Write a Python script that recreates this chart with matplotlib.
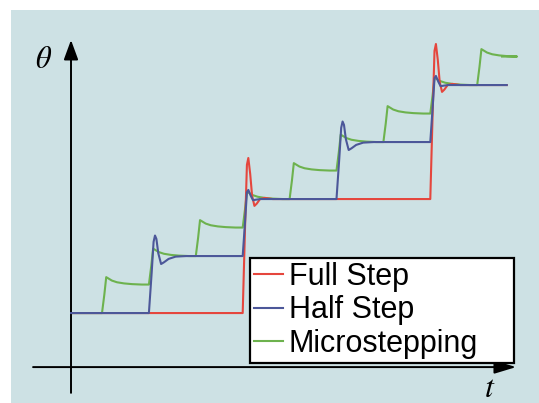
import matplotlib.pyplot as plt
from matplotlib.patches import Rectangle
from matplotlib.lines import Line2D

plt.rcParams['font.family'] = ['Liberation Sans', 'DejaVu Sans']
plt.rcParams['mathtext.fontset'] = 'stix'

# time in microstep periods, angle in full steps
t_start = 0.34
t_end = 9.63
t_end_micro = 9.53

full_steps = [4, 8]
half_steps = [2, 4, 6, 8]
micro_steps = [1, 2, 3, 4, 5, 6, 7, 8, 9]
full_size = 1.0
half_size = 0.5
micro_size = 0.25

# step responses: time after the step, fraction of the step
red_dt = [0, 0.05, 0.09, 0.12, 0.16, 0.2, 0.25, 0.3, 0.37, 0.47, 0.64]
red_frac = [0, 0.75, 1.3, 1.36, 1.22, 1.03, 0.94, 0.96, 1.0, 1.01, 1.0]

blue_big_dt = [0, 0.06, 0.1, 0.13, 0.16, 0.2, 0.26, 0.32, 0.42, 0.57, 0.8]
blue_big_frac = [0, 0.72, 1.25, 1.36, 1.3, 1.05, 0.86, 0.89, 0.95, 0.99, 1.0]
blue_small_dt = [0, 0.05, 0.09, 0.12, 0.17, 0.22, 0.29, 0.38]
blue_small_frac = [0, 0.6, 1.12, 1.16, 1.06, 0.98, 0.99, 1.0]

green_dt = [0, 0.05, 0.09, 0.13, 0.21, 0.32, 0.47, 0.64, 0.85]
green_frac = [0, 0.65, 1.26, 1.22, 1.14, 1.08, 1.04, 1.015, 1.0]

labels = ['Full Step', 'Half Step', 'Microstepping']
colors = ['#e5463d', '#4c5799', '#6db24e']


def build(steps, size, shapes, t_last):
    ts, ys = [t_start], [0.0]
    level = 0.0
    for s, (dt, fr) in zip(steps, shapes):
        ts.append(s)
        ys.append(level)
        for d, f in zip(dt, fr):
            ts.append(s + d)
            ys.append(level + size * f)
        level += size
    ts.append(t_last)
    ys.append(level)
    return ts, ys


red_t, red_y = build(full_steps, full_size, [(red_dt, red_frac)] * 2, t_end)
blue_t, blue_y = build(half_steps, half_size,
                       [(blue_big_dt, blue_big_frac), (blue_small_dt, blue_small_frac)] * 2, t_end)
green_t, green_y = build(micro_steps, micro_size, [(green_dt, green_frac)] * 9, t_end_micro)

fig = plt.figure(figsize=(5.39, 4.03), dpi=100)
fig.patches.append(Rectangle((11 / 539, 0), 1 - 11 / 539, 393 / 403, transform=fig.transFigure,
                             facecolor='#cde1e4', edgecolor='none', zorder=-10))
ax = fig.add_axes([0, 0, 1, 1])
ax.set_facecolor('none')
ax.set_xlim(-1.175, 10.318)
ax.set_ylim(-0.789, 2.746)
ax.axis('off')

lw = 1.5
ax.plot(green_t, green_y, color=colors[2], lw=lw, zorder=2, solid_joinstyle='round')
ax.plot(red_t, red_y, color=colors[0], lw=lw, zorder=3, solid_joinstyle='round')
ax.plot(blue_t, blue_y, color=colors[1], lw=lw, zorder=4, solid_joinstyle='round')

# axes with arrows
ax.annotate('', xy=(0.339, 2.395), xytext=(0.339, -0.70),
            arrowprops=dict(arrowstyle='-|>,head_length=0.6,head_width=0.22', lw=1.4,
                            color='black', mutation_scale=20, shrinkA=0, shrinkB=0))
ax.annotate('', xy=(9.83, -0.474), xytext=(-0.47, -0.474),
            arrowprops=dict(arrowstyle='-|>,head_length=0.66,head_width=0.2', lw=1.4,
                            color='black', mutation_scale=20, shrinkA=0, shrinkB=0))
ax.text(0.0816, 0.851, r'$\theta$', transform=ax.transAxes, fontsize=22, ha='center', va='center')
ax.text(0.909, 0.035, r'$t$', transform=ax.transAxes, fontsize=23, ha='center', va='center')

handles = [Line2D([], [], color=c, lw=1.5) for c in colors]
leg = ax.legend(handles, labels, loc='upper left',
                bbox_to_anchor=(250 / 539, 1 - 258 / 403, 264 / 539, 0.0), mode='expand',
                borderaxespad=0, fontsize=22, handlelength=0.95, handletextpad=0.2,
                borderpad=0.12, labelspacing=0.12, fancybox=False, framealpha=1,
                facecolor='white', edgecolor='black')
leg.get_frame().set_linewidth(1.6)
leg.set_zorder(6)

fig.savefig('out.png', dpi=100)
